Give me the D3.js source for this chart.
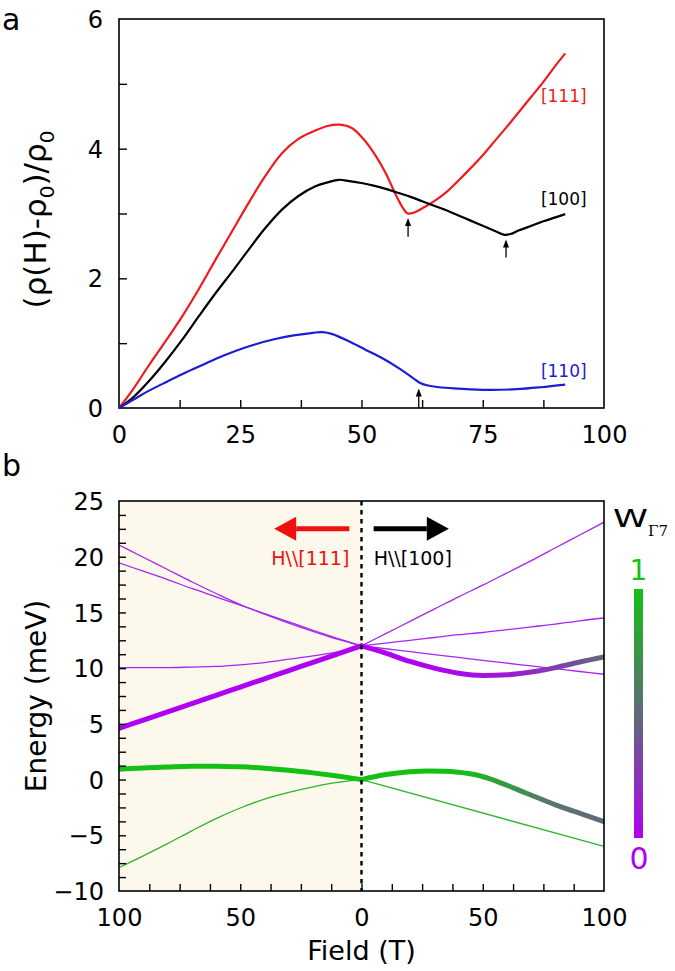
<!DOCTYPE html>
<html><head><meta charset="utf-8">
<script src="https://cdn.jsdelivr.net/npm/d3@7"></script>
<style>body{margin:0;background:#fff}svg{display:block}</style>
</head><body>
<script>
// ---------------- Panel a data ----------------
const field111 = [0,3,6,9.5,13,16.5,20,23.5,26.7,30,33.6,37,40.5,43,45.5,48,50.5,53,55,57,58.5,59.5,61,63,65,67.5,70,72.5,75,77.5,80,82.5,85,87.5,90,92];
const rho111   = [0,0.3,0.64,1.02,1.41,1.84,2.3,2.75,3.16,3.56,3.93,4.15,4.28,4.35,4.37,4.32,4.14,3.88,3.62,3.3,3.09,3.0,3.02,3.1,3.19,3.33,3.51,3.7,3.9,4.12,4.34,4.57,4.8,5.03,5.28,5.47];
const field100 = [0,3,6,9.5,13,16.5,19.9,23.5,26.7,30,33.6,37,40.5,43,45.3,47.5,50,52.5,55,57.5,60,62.5,65,67.5,70,72.5,75,77.5,79.5,81,82.5,85,87.5,90,92];
const rho100   = [0,0.17,0.4,0.71,1.05,1.42,1.77,2.12,2.44,2.76,3.06,3.27,3.42,3.48,3.52,3.5,3.47,3.43,3.38,3.32,3.26,3.19,3.12,3.05,2.97,2.89,2.81,2.73,2.67,2.69,2.74,2.81,2.88,2.94,2.99];
const field110 = [0,3,6,10,13,16.5,20,24,28,32,36,40,42,44,47.4,50.8,54.5,58,60.5,62,63.5,66,70,76,82,87,92];
const rho110   = [0,0.13,0.26,0.41,0.52,0.64,0.76,0.88,0.98,1.06,1.12,1.16,1.17,1.14,1.03,0.9,0.76,0.6,0.47,0.39,0.35,0.32,0.3,0.28,0.29,0.32,0.36];
const seriesA = [
  {name:"[111]", color:"#ee1c1c", f:field111, v:rho111, lf:91.7, lv:4.82},
  {name:"[100]", color:"#000000", f:field100, v:rho100, lf:91.7, lv:3.22},
  {name:"[110]", color:"#1c1cd6", f:field110, v:rho110, lf:91.7, lv:0.58}
];
const arrowField = [59.6, 79.8, 61.8];
const arrowTip   = [2.93, 2.6, 0.30];
const arrowTail  = [2.64, 2.32, 0.0];
const xTicksA = [0,25,50,75,100];
const yTicksA = [0,2,4,6];

// ---------------- Panel b data ----------------
// H || [111] side (plotted to the left), field in T
const fL = [0,10,20,30,40,50,60,70,80,90,100];
const L_p1 = [12,12.6,13.3,14.05,14.85,15.7,16.7,17.75,18.85,19.95,21.05];
const L_p2 = [12,12.68,13.4,14.15,14.9,15.65,16.4,17.15,17.95,18.7,19.45];
const L_p3 = [12,11.45,11.1,10.8,10.5,10.3,10.15,10.1,10.05,10.05,10.05];
const L_tP = [12,11.26,10.52,9.78,9.04,8.3,7.56,6.82,6.08,5.34,4.6];
const L_tG = [0,0.32,0.6,0.84,1.02,1.14,1.2,1.19,1.12,1.03,0.93];
const L_g  = [0,-0.25,-0.65,-1.15,-1.75,-2.55,-3.5,-4.6,-5.75,-6.85,-7.9];
// H || [100] side (plotted to the right)
const fR = [0,10,20,30,40,50,60,70,80,90,100];
const R_p1 = [12,13.1,14.2,15.3,16.4,17.45,18.55,19.65,20.8,21.95,23.1];
const R_p2 = [12,12.25,12.5,12.75,13.0,13.2,13.45,13.7,13.95,14.25,14.5];
const R_p3 = [12,11.74,11.48,11.22,10.96,10.7,10.45,10.2,9.95,9.7,9.45];
const R_t1 = [12,11.35,10.6,10.0,9.55,9.35,9.4,9.65,10.05,10.55,11.0];
const R_t1W= [0,0,0.02,0.03,0.05,0.08,0.12,0.2,0.3,0.4,0.5];
const fR2  = [0,10,20,27,34,40,47.5,54.4,61,68,75,82,91,100];
const R_t2 = [0,0.45,0.7,0.77,0.75,0.66,0.41,-0.04,-0.6,-1.23,-1.83,-2.43,-3.1,-3.78];
const R_t2W= [1,1,1,1,1,0.98,0.93,0.84,0.76,0.68,0.61,0.56,0.52,0.48];
const fR3  = [0,100];
const R_g  = [0,-6.0];
const xTickLabelsB = [-100,-50,0,50,100];
const yTickLabelsB = [-10,-5,0,5,10,15,20,25];

const FONT = "'DejaVu Sans', Verdana, sans-serif";
const colorW = d3.scaleLinear().domain([0,0.5,1]).range(["#b000f2","#5f6b79","#14c014"]);
const thinPurple = "#a626ee", thinGreen = "#2cb52c";

const svg = d3.select("body").append("svg").attr("width",675).attr("height",971)
  .style("font-family", FONT);

// ================= Panel a =================
const xA = d3.scaleLinear([0,100],[119,604]);
const yA = d3.scaleLinear([0,6],[408,19]);
const gA = svg.append("g");
gA.append("rect").attr("x",xA(0)).attr("y",yA(6)).attr("width",xA(100)-xA(0)).attr("height",yA(0)-yA(6))
  .attr("fill","none").attr("stroke","#000").attr("stroke-width",1.6);
const tA = gA.append("g").attr("transform",`translate(0,${yA(0)})`)
  .call(d3.axisBottom(xA).tickValues(d3.range(12.5,100,12.5)).tickSizeInner(-8).tickSizeOuter(0).tickFormat(""));
const tA2 = gA.append("g").attr("transform",`translate(${xA(0)},0)`)
  .call(d3.axisLeft(yA).tickValues([1,2,3,4,5]).tickSizeInner(-8).tickSizeOuter(0).tickFormat(""));
[tA,tA2].forEach(g=>{g.select(".domain").remove(); g.selectAll("line").attr("stroke-width",1.4);});
const lA = gA.append("g").attr("transform",`translate(0,${yA(0)})`)
  .call(d3.axisBottom(xA).tickValues(xTicksA).tickSize(0).tickPadding(18).tickFormat(d3.format("d")));
const lA2 = gA.append("g").attr("transform",`translate(${xA(0)},0)`)
  .call(d3.axisLeft(yA).tickValues(yTicksA).tickSize(0).tickPadding(16).tickFormat(d3.format("d")));
[lA,lA2].forEach(g=>{g.select(".domain").remove(); g.selectAll("text").attr("font-size",24).attr("font-family",FONT).attr("fill","#000");});
lA2.selectAll("text").attr("dy","0.36em");

const lineA = d3.line().x(d=>xA(d[0])).y(d=>yA(d[1])).curve(d3.curveCatmullRom.alpha(0.5));
seriesA.forEach(s=>{
  gA.append("path").attr("d", lineA(s.f.map((f,i)=>[f,s.v[i]])))
    .attr("fill","none").attr("stroke",s.color).attr("stroke-width",2.2);
  gA.append("text").attr("x",xA(s.lf)).attr("y",yA(s.lv)).attr("dy","0.36em")
    .attr("text-anchor","middle").attr("font-size",17).attr("fill",s.color).text(s.name);
});
arrowField.forEach((f,i)=>{
  const x = xA(f), y1 = yA(arrowTip[i]), y0 = yA(arrowTail[i]);
  gA.append("line").attr("x1",x).attr("x2",x).attr("y1",y0).attr("y2",y1+6).attr("stroke","#000").attr("stroke-width",1.3);
  gA.append("path").attr("d",`M${x},${y1} L${x-3},${y1+8} L${x+3},${y1+8} Z`).attr("fill","#000");
});
gA.append("text").attr("transform",`translate(46,${(yA(0)+yA(6))/2+6}) rotate(-90)`)
  .attr("text-anchor","middle").attr("font-size",31).attr("fill","#000")
  .call(t=>{
    t.append("tspan").text("(ρ(H)-ρ");
    t.append("tspan").attr("font-size",20).attr("dy",8).text("0");
    t.append("tspan").attr("dy",-8).text(")/ρ");
    t.append("tspan").attr("font-size",20).attr("dy",8).text("0");
  });
svg.append("text").attr("x",2).attr("y",30).attr("font-size",30).text("a");

// ================= Panel b =================
const xB = d3.scaleLinear([-100,100],[119,604]);
const yB = d3.scaleLinear([-10,25],[891,501]);
const gB = svg.append("g");
gB.append("rect").attr("x",xB(-100)).attr("y",yB(25)).attr("width",xB(0)-xB(-100)).attr("height",yB(-10)-yB(25))
  .attr("fill","#fdf8ec");
gB.append("defs").append("clipPath").attr("id","clipB").append("rect")
  .attr("x",xB(-100)).attr("y",yB(25)).attr("width",xB(100)-xB(-100)).attr("height",yB(-10)-yB(25));
const plotB = gB.append("g").attr("clip-path","url(#clipB)");

const lineB = d3.line().x(d=>xB(d[0])).y(d=>yB(d[1])).curve(d3.curveMonotoneX);
const thin = [
  {f:fL, e:L_p1, side:-1, c:thinPurple},{f:fL, e:L_p2, side:-1, c:thinPurple},{f:fL, e:L_p3, side:-1, c:thinPurple},
  {f:fL, e:L_g, side:-1, c:thinGreen},
  {f:fR, e:R_p1, side:1, c:thinPurple},{f:fR, e:R_p2, side:1, c:thinPurple},{f:fR, e:R_p3, side:1, c:thinPurple},
  {f:fR3, e:R_g, side:1, c:thinGreen}
];
thin.forEach(s=>{
  const pts = s.f.map((f,i)=>[s.side*f, s.e[i]]).sort((a,b)=>a[0]-b[0]);
  plotB.append("path").attr("d",lineB(pts)).attr("fill","none").attr("stroke",s.c).attr("stroke-width",1.3);
});
const defs = svg.append("defs");
const thick = [
  {f:fL, e:L_tP, w:fL.map(()=>0), side:-1},
  {f:fL, e:L_tG, w:fL.map(()=>1), side:-1},
  {f:fR, e:R_t1, w:R_t1W, side:1},
  {f:fR2, e:R_t2, w:R_t2W, side:1}
];
thick.forEach((s,k)=>{
  const pts = s.f.map((f,i)=>[s.side*f, s.e[i], s.w[i]]).sort((a,b)=>a[0]-b[0]);
  const x1 = xB(pts[0][0]), x2 = xB(pts[pts.length-1][0]);
  const grad = defs.append("linearGradient").attr("id","g"+k).attr("gradientUnits","userSpaceOnUse")
    .attr("x1",x1).attr("x2",x2).attr("y1",0).attr("y2",0);
  pts.forEach(p=>grad.append("stop").attr("offset",(xB(p[0])-x1)/(x2-x1)).attr("stop-color",colorW(p[2])));
  plotB.append("path").attr("d",lineB(pts)).attr("fill","none").attr("stroke",`url(#g${k})`)
    .attr("stroke-width",5).attr("stroke-linecap","round");
});
gB.append("line").attr("x1",xB(0)).attr("x2",xB(0)).attr("y1",yB(25)).attr("y2",yB(-10))
  .attr("stroke","#000").attr("stroke-width",2.4).attr("stroke-dasharray","4.5,4.5");
gB.append("rect").attr("x",xB(-100)).attr("y",yB(25)).attr("width",xB(100)-xB(-100)).attr("height",yB(-10)-yB(25))
  .attr("fill","none").attr("stroke","#000").attr("stroke-width",1.6);
const tB = gB.append("g").attr("transform",`translate(0,${yB(-10)})`)
  .call(d3.axisBottom(xB).tickValues(d3.range(-87.5,100,12.5)).tickSizeInner(-7).tickSizeOuter(0).tickFormat(""));
const tB2 = gB.append("g").attr("transform",`translate(${xB(-100)},0)`)
  .call(d3.axisLeft(yB).tickValues(d3.range(-8.75,25,1.25)).tickSizeInner(-7).tickSizeOuter(0).tickFormat(""));
[tB,tB2].forEach(g=>{g.select(".domain").remove(); g.selectAll("line").attr("stroke-width",1.4);});
const lB = gB.append("g").attr("transform",`translate(0,${yB(-10)})`)
  .call(d3.axisBottom(xB).tickValues(xTickLabelsB).tickSize(0).tickPadding(18).tickFormat(d=>Math.abs(d)));
const lB2 = gB.append("g").attr("transform",`translate(${xB(-100)},0)`)
  .call(d3.axisLeft(yB).tickValues(yTickLabelsB).tickSize(0).tickPadding(15));
[lB,lB2].forEach(g=>{g.select(".domain").remove(); g.selectAll("text").attr("font-size",24).attr("font-family",FONT).attr("fill","#000");});
lB2.selectAll("text").attr("dy","0.36em");

function bigArrow(fromF, toF, e, color){
  const x0 = xB(fromF), x1 = xB(toF), y = yB(e), dir = Math.sign(x1-x0);
  const hx = x1 - dir*22;
  gB.append("line").attr("x1",x0).attr("x2",hx).attr("y1",y).attr("y2",y).attr("stroke",color).attr("stroke-width",5);
  gB.append("path").attr("d",`M${x1},${y} L${hx},${y-12} L${hx},${y+12} Z`).attr("fill",color);
}
bigArrow(-5,-36,22.5,"#ee1111");
bigArrow(5,36,22.5,"#000");
gB.append("text").attr("x",xB(-5)).attr("y",yB(19.3)).attr("text-anchor","end").attr("font-size",19).attr("fill","#ee1111").text("H\\\\[111]");
gB.append("text").attr("x",xB(5)).attr("y",yB(19.3)).attr("text-anchor","start").attr("font-size",19).attr("fill","#000").text("H\\\\[100]");

gB.append("text").attr("transform",`translate(46,${(yB(25)+yB(-10))/2}) rotate(-90)`)
  .attr("text-anchor","middle").attr("font-size",28).text("Energy (meV)");
gB.append("text").attr("x",xB(0)).attr("y",960).attr("text-anchor","middle").attr("font-size",27).text("Field (T)");
svg.append("text").attr("x",2).attr("y",476).attr("font-size",30).text("b");

// colorbar
const cbW = [0,0.5,1];
const cg = defs.append("linearGradient").attr("id","cbar").attr("x1",0).attr("x2",0).attr("y1",1).attr("y2",0);
cbW.forEach(w=>cg.append("stop").attr("offset",w).attr("stop-color",colorW(w)));
svg.append("rect").attr("x",634).attr("y",589).attr("width",9).attr("height",249).attr("fill","url(#cbar)");
svg.append("text").attr("x",638.5).attr("y",580).attr("text-anchor","middle").attr("font-size",28).attr("fill",colorW(1)).text("1");
svg.append("text").attr("x",639).attr("y",869).attr("text-anchor","middle").attr("font-size",30).attr("fill",colorW(0)).text("0");
svg.append("text").attr("x",613).attr("y",527).attr("font-size",25).attr("textLength",35).attr("lengthAdjust","spacingAndGlyphs").text("W");
svg.append("text").attr("x",648).attr("y",536).attr("font-size",15).attr("font-family","'DejaVu Serif', serif").text("Γ7");
</script>
</body></html>
